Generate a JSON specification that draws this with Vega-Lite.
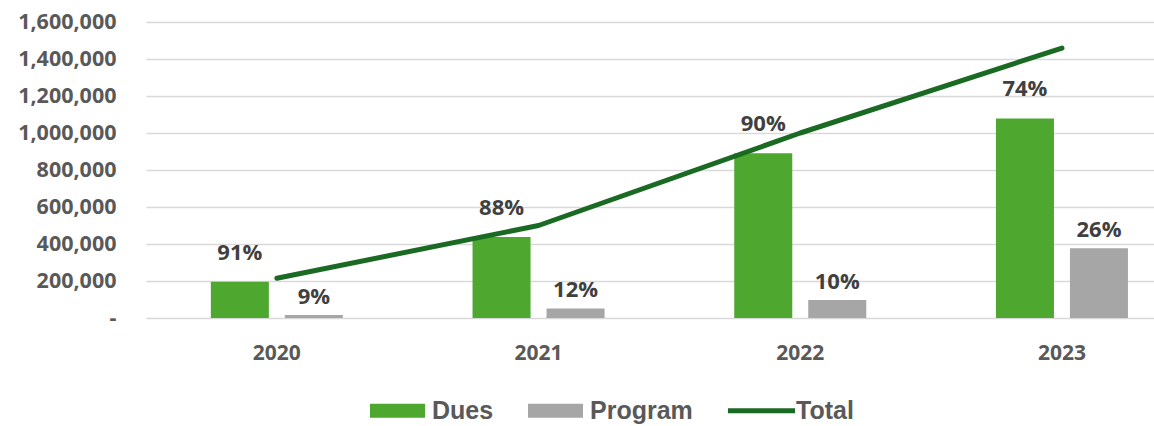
{
  "$schema": "https://vega.github.io/schema/vega-lite/v6.json",
  "width": 1008,
  "height": 296,
  "autosize": "none",
  "padding": {"left": 146, "top": 22, "right": 0, "bottom": 108},
  "background": "white",
  "config": {
    "view": {"stroke": null},
    "font": "Open Sans"
  },
  "datasets": {
    "bars": [
      {"year": "2020", "series": "Dues", "value": 196000, "pct": "91%"},
      {"year": "2020", "series": "Program", "value": 16000, "pct": "9%"},
      {"year": "2021", "series": "Dues", "value": 438000, "pct": "88%"},
      {"year": "2021", "series": "Program", "value": 52000, "pct": "12%"},
      {"year": "2022", "series": "Dues", "value": 890000, "pct": "90%"},
      {"year": "2022", "series": "Program", "value": 97000, "pct": "10%"},
      {"year": "2023", "series": "Dues", "value": 1079000, "pct": "74%"},
      {"year": "2023", "series": "Program", "value": 377000, "pct": "26%"}
    ],
    "totals": [
      {"year": "2020", "total": 215000},
      {"year": "2021", "total": 500000},
      {"year": "2022", "total": 1000000},
      {"year": "2023", "total": 1459000}
    ]
  },
  "encoding": {
    "x": {
      "field": "year",
      "type": "nominal",
      "scale": {"range": [0, 1046.8], "paddingInner": 0, "paddingOuter": 0},
      "axis": {
        "title": null,
        "labelAngle": 0,
        "domain": false,
        "ticks": false,
        "labelPadding": 24,
        "labelFontSize": 21,
        "labelFontWeight": "bold",
        "labelColor": "#595959",
        "labelFont": "Open Sans"
      }
    },
    "y": {
      "type": "quantitative",
      "scale": {"domain": [0, 1600000], "nice": false},
      "axis": {
        "title": null,
        "values": [0, 200000, 400000, 600000, 800000, 1000000, 1200000, 1400000, 1600000],
        "labelExpr": "datum.value === 0 ? '-' : format(datum.value, ',')",
        "domain": false,
        "ticks": false,
        "grid": true,
        "gridColor": "#D9D9D9",
        "gridWidth": 1.5,
        "labelPadding": 30,
        "labelFontSize": 21.5,
        "labelFontWeight": "bold",
        "labelColor": "#595959",
        "labelFont": "Open Sans"
      }
    }
  },
  "layer": [
    {
      "data": {"name": "bars"},
      "mark": {"type": "bar"},
      "encoding": {
        "xOffset": {
          "field": "series",
          "type": "nominal",
          "scale": {"domain": ["Dues", "Program"], "paddingInner": 0.216, "paddingOuter": 0.876}
        },
        "y": {"field": "value", "type": "quantitative"},
        "color": {
          "field": "series",
          "type": "nominal",
          "scale": {"domain": ["Dues", "Program", "Total"], "range": ["#4EA72E", "#A6A6A6", "#1B6A24"]},
          "legend": {
            "title": null,
            "orient": "none",
            "direction": "horizontal",
            "legendX": 224,
            "legendY": 361,
            "padding": 0,
            "symbolSize": 3025,
            "labelOffset": 7,
            "columnPadding": 34,
            "labelFontSize": 25,
            "labelFontWeight": "bold",
            "labelColor": "#595959",
            "labelFont": "Liberation Sans",
            "encode": {
              "symbols": {
                "update": {
                  "shape": {"signal": "datum.value === 'Total' ? 'M-1.22,-0.09H1.22V0.09H-1.22Z' : 'M-1,-0.255H1V0.255H-1Z'"},
                  "fill": {"scale": "color", "field": "value"},
                  "stroke": {"value": "transparent"},
                  "strokeWidth": {"value": 0},
                  "opacity": {"value": 1}
                }
              }
            }
          }
        }
      }
    },
    {
      "data": {"name": "bars"},
      "transform": [{"filter": "datum.series === 'Dues'"}],
      "mark": {"type": "text", "baseline": "alphabetic", "dy": -22, "fontSize": 22, "fontWeight": "bold", "color": "#404040", "font": "Open Sans"},
      "encoding": {
        "xOffset": {"field": "series", "type": "nominal", "scale": {"domain": ["Dues", "Program"], "paddingInner": 0.216, "paddingOuter": 0.876}},
        "y": {"field": "value", "type": "quantitative"},
        "text": {"field": "pct"}
      }
    },
    {
      "data": {"name": "bars"},
      "transform": [{"filter": "datum.series === 'Program'"}],
      "mark": {"type": "text", "baseline": "alphabetic", "dy": -11, "fontSize": 22, "fontWeight": "bold", "color": "#404040", "font": "Open Sans"},
      "encoding": {
        "xOffset": {"field": "series", "type": "nominal", "scale": {"domain": ["Dues", "Program"], "paddingInner": 0.216, "paddingOuter": 0.876}},
        "y": {"field": "value", "type": "quantitative"},
        "text": {"field": "pct"}
      }
    },
    {
      "data": {"name": "totals"},
      "mark": {"type": "line", "strokeWidth": 5, "strokeCap": "round", "strokeJoin": "round"},
      "encoding": {
        "y": {"field": "total", "type": "quantitative"},
        "color": {"datum": "Total"}
      }
    }
  ]
}
